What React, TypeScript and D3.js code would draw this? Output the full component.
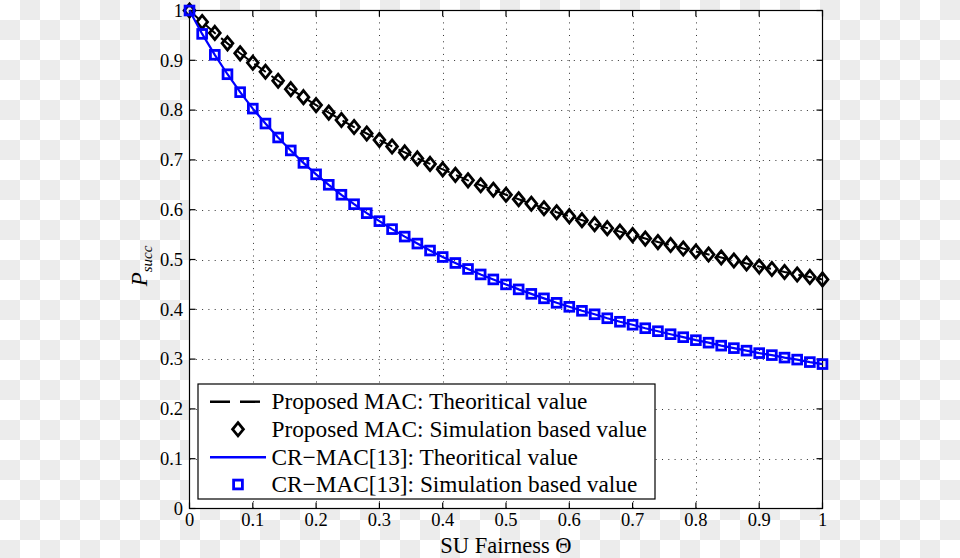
import React from "react";
import * as d3 from "d3";

const theta = [
  0, 0.02, 0.04, 0.06, 0.08, 0.1, 0.12, 0.14, 0.16, 0.18, 0.2, 0.22, 0.24, 0.26, 0.28, 0.3, 0.32, 0.34,
  0.36, 0.38, 0.4, 0.42, 0.44, 0.46, 0.48, 0.5, 0.52, 0.54, 0.56, 0.58, 0.6, 0.62, 0.64, 0.66, 0.68,
  0.7, 0.72, 0.74, 0.76, 0.78, 0.8, 0.82, 0.84, 0.86, 0.88, 0.9, 0.92, 0.94, 0.96, 0.98, 1,
];

const proposedTheory = [
  1.0, 0.977, 0.955, 0.934, 0.914, 0.895, 0.877, 0.859, 0.842, 0.826, 0.81, 0.795, 0.78, 0.766, 0.753,
  0.74, 0.727, 0.715, 0.703, 0.692, 0.681, 0.67, 0.659, 0.649, 0.64, 0.63, 0.621, 0.612, 0.603, 0.595,
  0.587, 0.579, 0.571, 0.563, 0.556, 0.549, 0.542, 0.535, 0.529, 0.522, 0.516, 0.51, 0.504, 0.498,
  0.492, 0.486, 0.481, 0.475, 0.47, 0.465, 0.46,
];
const proposedSim = [
  1.0, 0.977, 0.955, 0.934, 0.914, 0.895, 0.877, 0.859, 0.842, 0.826, 0.81, 0.795, 0.78, 0.766, 0.753,
  0.74, 0.727, 0.715, 0.703, 0.692, 0.681, 0.67, 0.659, 0.649, 0.64, 0.63, 0.621, 0.612, 0.603, 0.595,
  0.587, 0.579, 0.571, 0.563, 0.556, 0.549, 0.542, 0.535, 0.529, 0.522, 0.516, 0.51, 0.504, 0.498,
  0.492, 0.486, 0.481, 0.475, 0.47, 0.465, 0.46,
];
const crmacTheory = [
  1.0, 0.953, 0.911, 0.872, 0.836, 0.803, 0.773, 0.745, 0.719, 0.694, 0.671, 0.65, 0.63, 0.611, 0.593,
  0.577, 0.561, 0.546, 0.532, 0.518, 0.505, 0.493, 0.481, 0.47, 0.46, 0.45, 0.44, 0.431, 0.422, 0.413,
  0.405, 0.397, 0.39, 0.382, 0.375, 0.369, 0.362, 0.356, 0.35, 0.344, 0.338, 0.333, 0.327, 0.322,
  0.317, 0.312, 0.308, 0.303, 0.299, 0.294, 0.29,
];
const crmacSim = [
  1.0, 0.953, 0.911, 0.872, 0.836, 0.803, 0.773, 0.745, 0.719, 0.694, 0.671, 0.65, 0.63, 0.611, 0.593,
  0.577, 0.561, 0.546, 0.532, 0.518, 0.505, 0.493, 0.481, 0.47, 0.46, 0.45, 0.44, 0.431, 0.422, 0.413,
  0.405, 0.397, 0.39, 0.382, 0.375, 0.369, 0.362, 0.356, 0.35, 0.344, 0.338, 0.333, 0.327, 0.322,
  0.317, 0.312, 0.308, 0.303, 0.299, 0.294, 0.29,
];

const xTicks = [0, 0.1, 0.2, 0.3, 0.4, 0.5, 0.6, 0.7, 0.8, 0.9, 1];
const xTickLabels = ["0", "0.1", "0.2", "0.3", "0.4", "0.5", "0.6", "0.7", "0.8", "0.9", "1"];
const yTicks = [0, 0.1, 0.2, 0.3, 0.4, 0.5, 0.6, 0.7, 0.8, 0.9, 1];
const yTickLabels = ["0", "0.1", "0.2", "0.3", "0.4", "0.5", "0.6", "0.7", "0.8", "0.9", "1"];
const legendLabels = [
  "Proposed MAC: Theoritical value",
  "Proposed MAC: Simulation based value",
  "CR\u2212MAC[13]: Theoritical value",
  "CR\u2212MAC[13]: Simulation based value",
];
const xLabel = "SU Fairness \u0398";

const FONT = "'Liberation Serif', 'Times New Roman', serif";
const BLUE = "#0000ff";

function diamondPath(cx: number, cy: number) {
  const hw = 5.4, hh = 6.6;
  return `M${cx},${cy - hh}L${cx + hw},${cy}L${cx},${cy + hh}L${cx - hw},${cy}Z`;
}

export default function App() {
  const W = 960, H = 558;
  const L = 189.5, R = 822.5, T = 10.5, B = 508.5;
  const x = d3.scaleLinear().domain([0, 1]).range([L, R]);
  const y = d3.scaleLinear().domain([0, 1]).range([B, T]);

  const line = (vals: number[]) =>
    d3.line<number>().x((_, i) => x(theta[i])).y((d) => y(d))(vals) || "";

  const tickLen = 6;
  const sq = 8.8;

  const legX = 198, legY = 384, legW = 457, legH = 115;
  const rowYs = [401.7, 429.3, 457.3, 484.5];

  return (
    <svg
      width={W}
      height={H}
      style={{ position: "absolute", left: 0, top: 0, display: "block" }}
      xmlns="http://www.w3.org/2000/svg"
    >
      <defs>
        <pattern id="checker" width="40" height="40" patternUnits="userSpaceOnUse">
          <rect x="0" y="0" width="40" height="40" fill="#ffffff" />
          <rect x="20" y="0" width="20" height="20" fill="#ececec" />
          <rect x="0" y="20" width="20" height="20" fill="#ececec" />
        </pattern>
      </defs>
      <rect x={0} y={0} width={W} height={H} fill="url(#checker)" />
      <rect x={L} y={T} width={R - L} height={B - T} fill="#ffffff" />

      {/* grid */}
      <g stroke="#333" strokeWidth={1} strokeDasharray="1 5.3">
        {xTicks.slice(1, -1).map((t) => (
          <line key={"gx" + t} x1={Math.round(x(t)) + 0.5} x2={Math.round(x(t)) + 0.5} y1={B} y2={T} />
        ))}
        {yTicks.slice(1, -1).map((t) => (
          <line key={"gy" + t} x1={L} x2={R} y1={Math.round(y(t)) + 0.5} y2={Math.round(y(t)) + 0.5} />
        ))}
      </g>

      {/* axes box and ticks */}
      <g stroke="#000" strokeWidth={1.2} fill="none">
        <rect x={L} y={T} width={R - L} height={B - T} />
        {xTicks.map((t) => (
          <g key={"tx" + t}>
            <line x1={x(t)} x2={x(t)} y1={B} y2={B - tickLen} />
            <line x1={x(t)} x2={x(t)} y1={T} y2={T + tickLen} />
          </g>
        ))}
        {yTicks.map((t) => (
          <g key={"ty" + t}>
            <line x1={L} x2={L + tickLen} y1={y(t)} y2={y(t)} />
            <line x1={R} x2={R - tickLen} y1={y(t)} y2={y(t)} />
          </g>
        ))}
      </g>

      {/* tick labels */}
      <g fontFamily={FONT} fontSize={18.5} fill="#000">
        {xTicks.map((t, i) => (
          <text key={"lx" + t} x={x(t)} y={526} textAnchor="middle">
            {xTickLabels[i]}
          </text>
        ))}
        {yTicks.map((t, i) => (
          <text key={"ly" + t} x={183} y={y(t) + 6.3} textAnchor="end">
            {yTickLabels[i]}
          </text>
        ))}
      </g>

      {/* axis labels */}
      <text x={(L + R) / 2} y={553} textAnchor="middle" fontFamily={FONT} fontSize={22.5} fill="#000">
        {xLabel}
      </text>
      <text
        transform={`translate(147,266) rotate(-90)`}
        textAnchor="middle"
        fontFamily={FONT}
        fill="#000"
      >
        <tspan fontSize={23} fontStyle="italic">P</tspan>
        <tspan fontSize={15} fontStyle="italic" dy={5}>succ</tspan>
      </text>

      {/* Proposed MAC */}
      <path d={line(proposedTheory)} fill="none" stroke="#000" strokeWidth={2} strokeDasharray="14 7" />
      <g fill="none" stroke="#000" strokeWidth={2.8} strokeLinejoin="miter">
        {proposedSim.map((v, i) => (
          <path key={"d" + i} d={diamondPath(x(theta[i]), y(v))} />
        ))}
      </g>

      {/* CR-MAC */}
      <path d={line(crmacTheory)} fill="none" stroke={BLUE} strokeWidth={2.2} />
      <g fill="none" stroke={BLUE} strokeWidth={2.8}>
        {crmacSim.map((v, i) => (
          <rect key={"s" + i} x={x(theta[i]) - sq / 2} y={y(v) - sq / 2} width={sq} height={sq} />
        ))}
      </g>

      {/* legend */}
      <rect x={legX} y={legY} width={legW} height={legH} fill="#fff" stroke="#000" strokeWidth={1.2} />
      <line x1={210} x2={262} y1={rowYs[0]} y2={rowYs[0]} stroke="#000" strokeWidth={2.4} strokeDasharray="20 10" />
      <path d={diamondPath(238, rowYs[1])} fill="none" stroke="#000" strokeWidth={2.8} />
      <line x1={210} x2={266} y1={rowYs[2]} y2={rowYs[2]} stroke={BLUE} strokeWidth={2.4} />
      <rect x={238 - sq / 2} y={rowYs[3] - sq / 2} width={sq} height={sq} fill="none" stroke={BLUE} strokeWidth={2.8} />
      <g fontFamily={FONT} fontSize={23.3} fill="#000">
        {legendLabels.map((lab, i) => (
          <text key={"lg" + i} x={271.5} y={rowYs[i] + 7.6}>
            {lab}
          </text>
        ))}
      </g>
    </svg>
  );
}
